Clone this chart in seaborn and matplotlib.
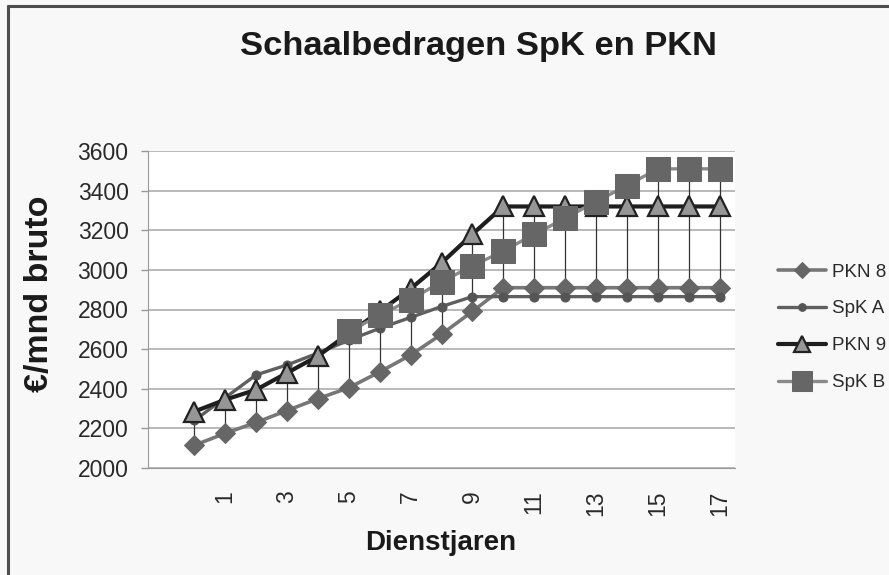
import numpy as np
import pandas as pd
import matplotlib
matplotlib.use("Agg")
import matplotlib.pyplot as plt
import seaborn as sns
from matplotlib.lines import Line2D

# Dienstjaren 0..17, bedragen in euro per maand bruto
years = list(range(18))
pkn8 = [2115, 2175, 2230, 2290, 2350, 2405, 2485, 2570, 2675, 2790,
        2910, 2910, 2910, 2910, 2910, 2910, 2910, 2910]
spk_a = [2240, 2355, 2470, 2520, 2580, 2645, 2705, 2760, 2815, 2865,
         2865, 2865, 2865, 2865, 2865, 2865, 2865, 2865]
pkn9 = [2285, 2345, 2395, 2480, 2565, 2680, 2790, 2905, 3035, 3180,
        3320, 3320, 3320, 3320, 3320, 3320, 3320, 3320]
spk_b = [np.nan, np.nan, np.nan, np.nan, np.nan, 2690, 2770, 2850, 2940, 3020,
         3095, 3180, 3260, 3345, 3425, 3510, 3510, 3510]
series_names = ["PKN 8", "SpK A", "PKN 9", "SpK B"]
x_ticks = [1, 3, 5, 7, 9, 11, 13, 15, 17]
y_ticks = [2000, 2200, 2400, 2600, 2800, 3000, 3200, 3400, 3600]

df = pd.DataFrame({"jaar": years, "PKN 8": pkn8, "SpK A": spk_a,
                   "PKN 9": pkn9, "SpK B": spk_b})

sns.set_style("white")
plt.rcParams['font.family'] = ['Liberation Sans', 'DejaVu Sans']

fig = plt.figure(figsize=(8.89, 5.75), dpi=100, facecolor="#f8f8f8")
ax = fig.add_axes([148 / 889, 1 - 468 / 575, 587 / 889, 317 / 575])
ax.set_facecolor("white")

# chart border, only the left and top edge fall inside the picture
fig.lines.append(Line2D([8 / 889, 8 / 889], [0, 1 - 5.5 / 575],
                        transform=fig.transFigure, color="#4d4d4d", linewidth=2.2))
fig.lines.append(Line2D([8 / 889, 1], [1 - 5.5 / 575, 1 - 5.5 / 575],
                        transform=fig.transFigure, color="#4d4d4d", linewidth=2.2))

# high-low lines
vals = df[series_names].to_numpy(dtype=float)
ax.vlines(df["jaar"], np.nanmin(vals, axis=1), np.nanmax(vals, axis=1),
          color="#333333", linewidth=0.9, zorder=1)

styles = {
    "PKN 8": dict(color="#777777", linewidth=2.6, marker="D", markersize=10,
                  markerfacecolor="#666666", markeredgecolor="#666666"),
    "SpK A": dict(color="#5f5f5f", linewidth=2.4, marker="o", markersize=6.5,
                  markerfacecolor="#555555", markeredgecolor="#555555"),
    "PKN 9": dict(color="#1e1e1e", linewidth=3.0, marker="^", markersize=14,
                  markerfacecolor="#969696", markeredgecolor="#222222",
                  markeredgewidth=1.6),
    "SpK B": dict(color="#8a8a8a", linewidth=2.4, marker="s", markersize=17,
                  markerfacecolor="#666666", markeredgecolor="#666666"),
}
for i, name in enumerate(series_names):
    sns.lineplot(data=df, x="jaar", y=name, ax=ax, label=name, zorder=2 + i,
                 **styles[name])

ax.set_xlim(-1.5, 17.5)
ax.set_ylim(2000, 3600)
ax.set_yticks(y_ticks)
ax.set_xticks(x_ticks)
ax.set_xticklabels([str(t) for t in x_ticks], rotation=90)
ax.yaxis.grid(True, color="#a6a6a6", linewidth=1.1)
ax.set_axisbelow(True)
for side in ["top", "right"]:
    ax.spines[side].set_visible(False)
ax.spines["left"].set_color("#999999")
ax.spines["bottom"].set_color("#999999")
ax.tick_params(axis="y", length=5, color="#999999", width=1, pad=9,
               labelsize=16.5, labelcolor="#2a2a2a", left=True)
ax.tick_params(axis="x", length=0, pad=16, labelsize=16.5, labelcolor="#2a2a2a")
ax.set_xlabel("")
ax.set_ylabel("")

fig.text(479 / 889, 1 - 46 / 575, "Schaalbedragen SpK en PKN",
         ha="center", va="center", fontsize=24.8, fontweight="bold",
         color="#1a1a1a")
fig.text(40 / 889, 1 - 294 / 575, "€/mnd bruto", rotation=90,
         ha="center", va="center", fontsize=24.5, fontweight="bold",
         color="#1a1a1a")
fig.text(441 / 889, 1 - 543 / 575, "Dienstjaren",
         ha="center", va="center", fontsize=20, fontweight="bold",
         color="#1a1a1a")

handles, labels = ax.get_legend_handles_labels()
ax.legend(handles, labels, loc="upper left",
          bbox_to_anchor=(770 / 889, 1 - 256 / 575),
          bbox_transform=fig.transFigure, frameon=False,
          fontsize=13.5, handlelength=2.6, handletextpad=0.3,
          labelspacing=1.05, markerscale=0.85, borderaxespad=0)
for t in ax.get_legend().get_texts():
    t.set_color("#2a2a2a")

plt.savefig("out.png", dpi=100, facecolor=fig.get_facecolor())
plt.close()
